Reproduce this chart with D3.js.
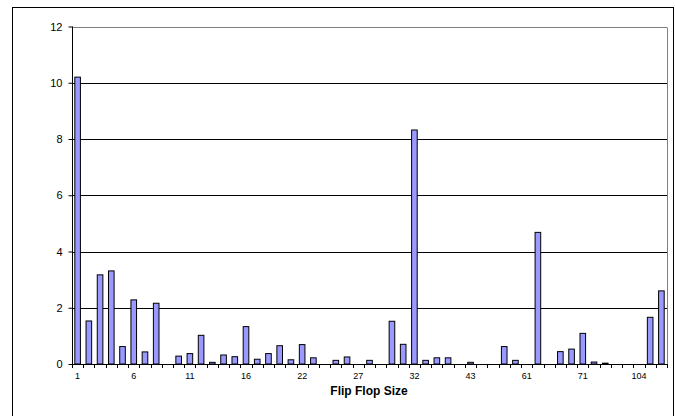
<!DOCTYPE html>
<html>
<head>
<meta charset="utf-8">
<script src="https://cdn.jsdelivr.net/npm/d3@7"></script>
<style>
  html, body { margin: 0; padding: 0; background: #fff; }
  svg { display: block; font-family: "Liberation Sans", Arial, sans-serif; }
</style>
</head>
<body>
<svg id="chart" width="675" height="416"></svg>
<script>
const categories = [
  "1","2","3","4","5","6","7","8","9","10","11","12","13","14","15","16",
  "17","18","19","20","22","23","24","25","26","27","28","29","30","31","32",
  "33","34","35","40","43","44","48","50","56","61","64","65","66","68","71",
  "72","80","96","100","104","128","256"
];
const values = [
  10.2, 1.53, 3.17, 3.31, 0.62, 2.28, 0.43, 2.16, 0, 0.28, 0.37, 1.02, 0.06, 0.32, 0.26, 1.33,
  0.17, 0.37, 0.65, 0.15, 0.69, 0.22, 0, 0.13, 0.25, 0, 0.13, 0, 1.52, 0.70, 8.32,
  0.13, 0.22, 0.22, 0, 0.06, 0, 0, 0.62, 0.13, 0, 4.68, 0, 0.44, 0.53, 1.09,
  0.07, 0.03, 0, 0, 0, 1.66, 2.60
];
const yTicks = [0, 2, 4, 6, 8, 10, 12];
const xTitle = "Flip Flop Size";

const svg = d3.select("#chart");
const pLeft = 72, pRight = 667, pTop = 26.5, pBottom = 364;

const x = d3.scaleBand().domain(categories).range([pLeft, pRight]).paddingInner(0).paddingOuter(0);
const y = d3.scaleLinear().domain([0, 12]).range([pBottom, pTop]);

// outer chart border
svg.append("rect").attr("x", 12.5).attr("y", 7.5).attr("width", 661).attr("height", 420)
  .attr("fill", "none").attr("stroke", "#000").attr("stroke-width", 1);

// gridlines
svg.append("g").selectAll("line").data(yTicks.filter(d => d > 0)).join("line")
  .attr("x1", pLeft).attr("x2", pRight)
  .attr("y1", d => Math.round(y(d)) + 0.5).attr("y2", d => Math.round(y(d)) + 0.5)
  .attr("stroke", d => d === 12 ? "#808080" : "#000").attr("stroke-width", 1);

// plot area right border
svg.append("line").attr("x1", pRight + 0.5).attr("x2", pRight + 0.5)
  .attr("y1", Math.round(y(12)) + 0.5).attr("y2", pBottom)
  .attr("stroke", "#808080");

// bars
const bw = x.bandwidth() * 0.5;
svg.append("g").selectAll("rect").data(categories.map((c, i) => ({c, v: values[i]})).filter(d => d.v > 0)).join("rect")
  .attr("x", d => x(d.c) + (x.bandwidth() - bw) / 2)
  .attr("y", d => y(d.v))
  .attr("width", bw)
  .attr("height", d => y(0) - y(d.v))
  .attr("fill", "#9999FF").attr("stroke", "#000").attr("stroke-width", 1);

// y axis
const yAxis = d3.axisLeft(y).tickValues(yTicks).tickSize(4).tickPadding(6).tickFormat(d3.format("d"));
const gy = svg.append("g").attr("transform", `translate(${pLeft + 0.5},0)`).call(yAxis);
gy.select(".domain").attr("stroke", "#000").attr("d", `M-0,${pTop}V${pBottom}`);
gy.selectAll(".tick text").attr("font-size", 11).attr("fill", "#000").attr("font-family", "Liberation Sans, Arial, sans-serif");

// x axis: ticks between categories, labels every 5
const xAxis = d3.axisBottom(x).tickSize(0).tickPadding(8)
  .tickValues(categories.filter((c, i) => i % 5 === 0));
const gx = svg.append("g").attr("transform", `translate(0,${pBottom + 0.5})`).call(xAxis);
gx.select(".domain").attr("stroke", "#000").attr("d", `M${pLeft},0H${pRight + 1}`);
gx.selectAll(".tick text").attr("font-size", 9).attr("fill", "#000").attr("font-family", "Liberation Sans, Arial, sans-serif");

// category separator ticks
svg.append("g").selectAll("line").data(d3.range(categories.length + 1)).join("line")
  .attr("x1", i => Math.round(pLeft + i * x.step()) + 0.5)
  .attr("x2", i => Math.round(pLeft + i * x.step()) + 0.5)
  .attr("y1", pBottom).attr("y2", pBottom + 4)
  .attr("stroke", "#000");

// x title
svg.append("text").attr("x", 369).attr("y", 395).attr("text-anchor", "middle")
  .attr("font-size", 12).attr("font-weight", "bold").attr("fill", "#000").text(xTitle);
</script>
</body>
</html>
